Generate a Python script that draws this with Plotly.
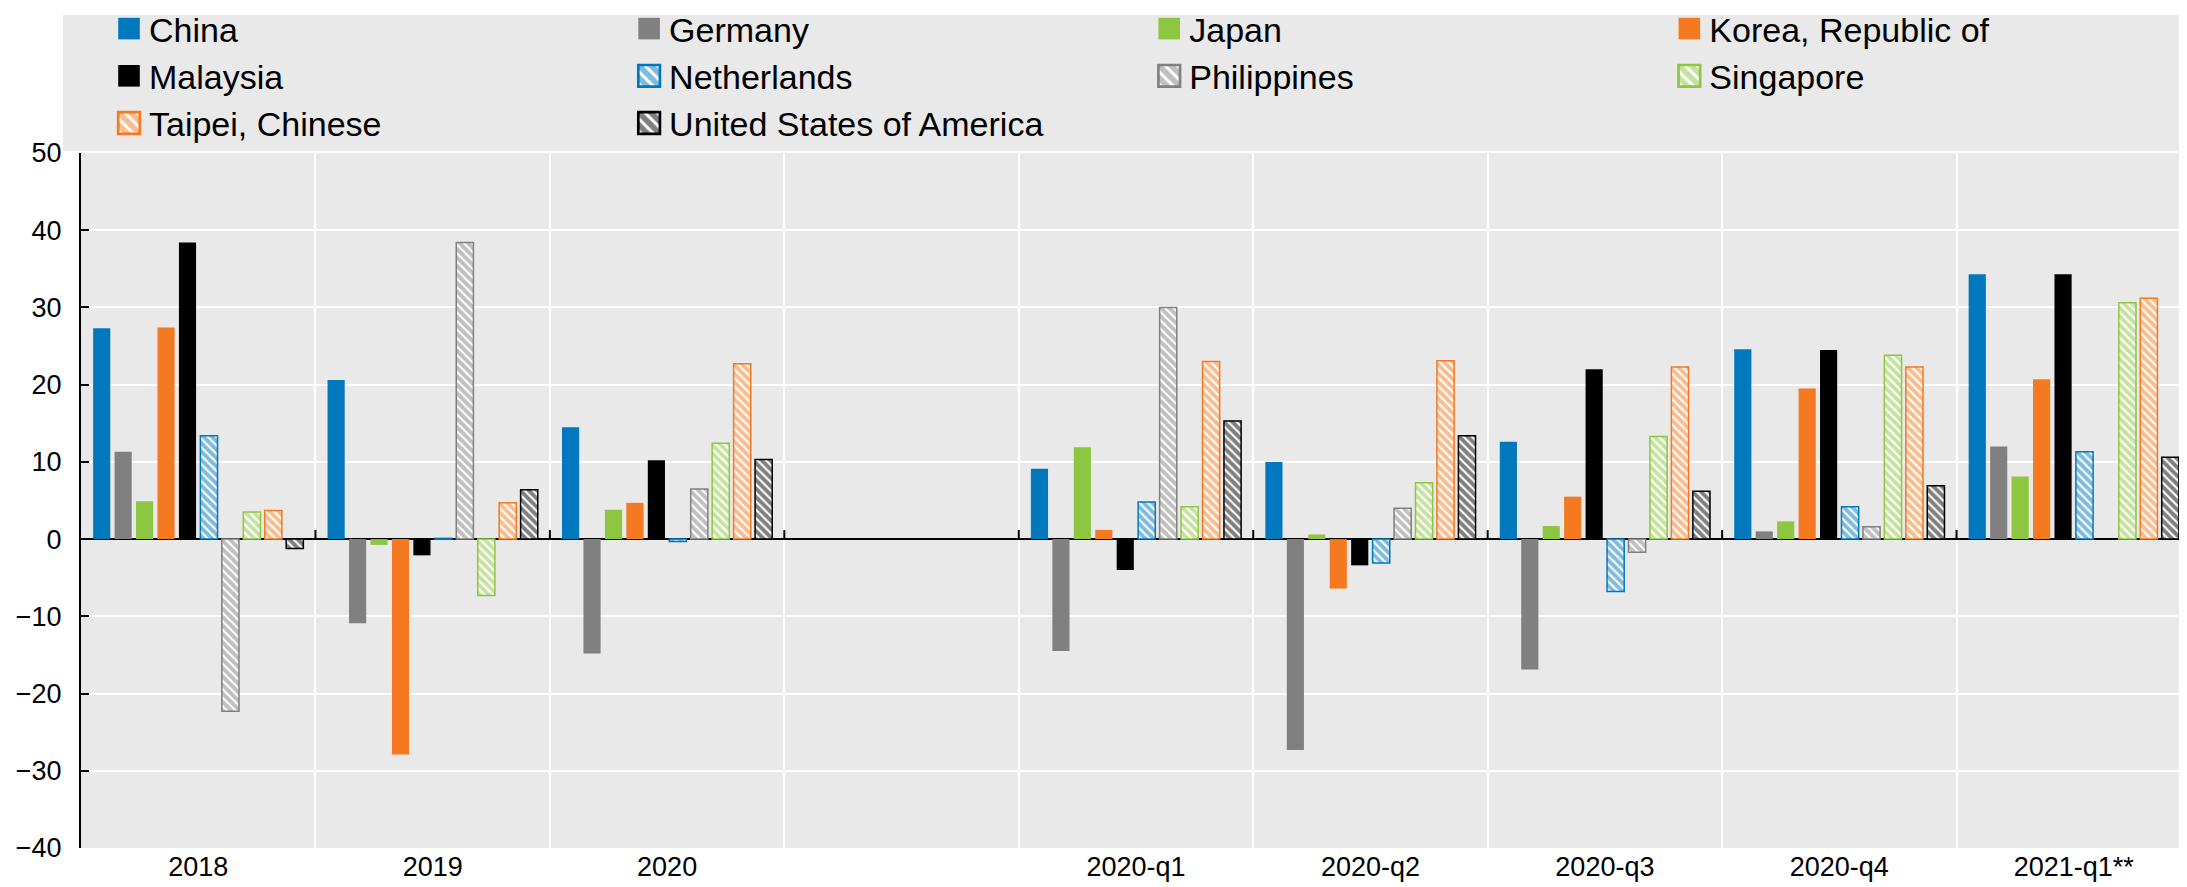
import plotly.graph_objects as go

categories = ["2018", "2019", "2020", " ", "2020-q1", "2020-q2", "2020-q3", "2020-q4", "2021-q1**"]

china       = [27.3, 20.6, 14.5, None, 9.1, 10.0, 12.6, 24.6, 34.3]
germany     = [11.3, -10.9, -14.8, None, -14.5, -27.3, -16.9, 1.0, 12.0]
japan       = [4.9, -0.75, 3.8, None, 11.9, 0.6, 1.7, 2.3, 8.1]
korea       = [27.4, -27.9, 4.7, None, 1.2, -6.4, 5.5, 19.5, 20.7]
malaysia    = [38.4, -2.1, 10.2, None, -4.0, -3.4, 22.0, 24.5, 34.3]
netherlands = [13.4, 0.1, -0.3, None, 4.8, -3.1, -6.8, 4.2, 11.3]
philippines = [-22.3, 38.4, 6.5, None, 30.0, 4.0, -1.7, 1.6, None]
singapore   = [3.5, -7.3, 12.4, None, 4.2, 7.3, 13.3, 23.8, 30.6]
taipei      = [3.7, 4.7, 22.7, None, 23.0, 23.1, 22.3, 22.3, 31.2]
usa         = [-1.2, 6.4, 10.3, None, 15.3, 13.4, 6.2, 6.9, 10.6]

names = ["China", "Germany", "Japan", "Korea, Republic of", "Malaysia",
         "Netherlands", "Philippines", "Singapore", "Taipei, Chinese",
         "United States of America"]
series = [china, germany, japan, korea, malaysia, netherlands, philippines,
          singapore, taipei, usa]
colors = ["#0078BE", "#808080", "#8DC641", "#F47920", "#000000",
          "#0078BE", "#808080", "#8DC641", "#F47920", "#000000"]
hatched = [False] * 5 + [True] * 5

W, H = 2187, 887
ML, MR, MT, MB = 73, 4, 145, 47
PW = W - ML - MR
PH = H - MT - MB

fig = go.Figure()
for name, vals, col, hat in zip(names, series, colors, hatched):
    if hat:
        marker = dict(color="white",
                      pattern=dict(shape="\\", fgcolor=col, bgcolor="white",
                                   size=6, solidity=0.65, fillmode="overlay"),
                      line=dict(color=col, width=1.5))
    else:
        marker = dict(color=col, line=dict(width=0))
    fig.add_trace(go.Bar(x=categories, y=vals, name=name, marker=marker))

# legend background band
fig.add_shape(type="rect", xref="paper", yref="paper", layer="below",
              x0=(55 - ML) / PW, x1=1 + MR / PW,
              y0=1 + 2 / PH, y1=1 + (MT - 7) / PH,
              fillcolor="#E9E9E9", line=dict(width=0))

# small tick marks on the zero line at category boundaries
for k in range(1, len(categories) + 1):
    fig.add_shape(type="line", xref="x", yref="y", ysizemode="pixel", yanchor=0,
                  x0=k - 0.5, x1=k - 0.5, y0=0, y1=9,
                  line=dict(color="black", width=2))

fig.update_layout(
    width=W, height=H,
    margin=dict(l=ML, r=MR, t=MT, b=MB, autoexpand=False),
    paper_bgcolor="white",
    plot_bgcolor="#E9E9E9",
    barmode="group",
    bargap=0.085,
    bargroupgap=0.2,
    font=dict(family="Liberation Sans Narrow, Arial Narrow, Liberation Sans, Arial, sans-serif",
              size=27, color="black"),
    legend=dict(orientation="h", x=(101 - ML) / PW, xanchor="left",
                y=1 + (MT + 8) / PH, yanchor="top",
                bgcolor="rgba(0,0,0,0)",
                font=dict(family="Liberation Sans, Arial, sans-serif", size=34),
                entrywidth=0.2465, entrywidthmode="fraction",
                tracegroupgap=0, traceorder="normal"),
    xaxis=dict(type="category", categoryorder="array", categoryarray=categories,
               range=[-0.5, len(categories) - 0.5],
               tickson="boundaries", showgrid=True, gridcolor="white", gridwidth=2,
               ticks="", showline=False, zeroline=False,
               ticklabelstandoff=0),
    yaxis=dict(range=[-40, 50], dtick=10, showgrid=True, gridcolor="white", gridwidth=2,
               zeroline=True, zerolinecolor="black", zerolinewidth=2,
               showline=True, linecolor="black", linewidth=2,
               ticks="inside", ticklen=8, tickwidth=2, tickcolor="black",
               ticklabelstandoff=12),
)

post = """
var s=document.createElement('style');
s.textContent='.legend .legendpoints path{transform:translate(20px,0px) scale(1.8);}';
document.head.appendChild(s);
"""
fig.write_html("out.html", post_script=post)
